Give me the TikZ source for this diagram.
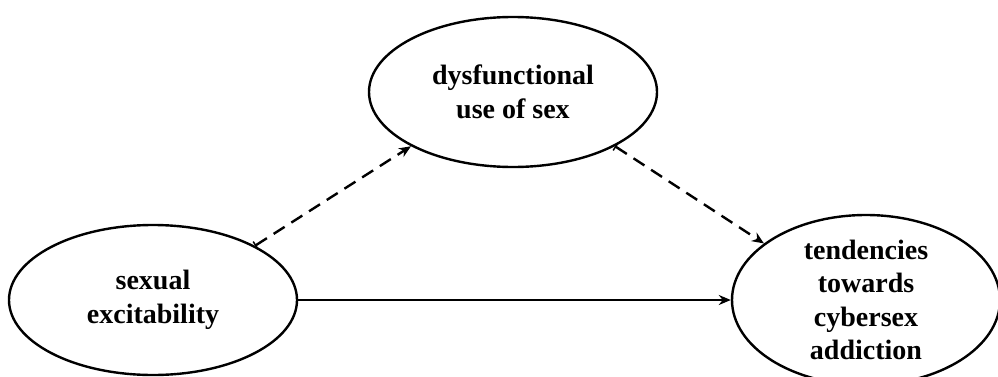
\documentclass[tikz,border=0pt]{standalone}
\usepackage{fontspec}
\setmainfont{Liberation Serif}
\usetikzlibrary{arrows.meta, shapes.geometric}

\begin{document}
\begin{tikzpicture}[x=1pt,y=1pt,
        var/.style={draw, line width=2.4pt, ellipse, minimum width=288pt, minimum height=150pt, inner sep=0pt,
            align=center, font=\fontsize{28}{33.5}\selectfont\bfseries},
        path/.style={line width=2.4pt, -{Stealth[length=12pt,width=10pt]}},
        indirect/.style={path, dash pattern=on 13pt off 8pt, {Bar[width=9pt,line width=1.5pt]}-{Stealth[length=12pt,width=10pt]}}]
        \useasboundingbox (0,0) rectangle (998,376);
        \node[var] (excit) at (153,76) {sexual\\excitability};
        \node[var] (dysfn) at (513,284) {dysfunctional\\use of sex};
        \node[var, minimum width=268pt] (cyber) at (866,76) {tendencies\\towards\\cybersex\\addiction};
        
        \draw[indirect] (excit.28)--(dysfn.208);
        \draw[indirect] (dysfn.332)--(cyber.151);
        \draw[path] (excit.east)--(cyber.west);
    \end{tikzpicture}
\end{document}
